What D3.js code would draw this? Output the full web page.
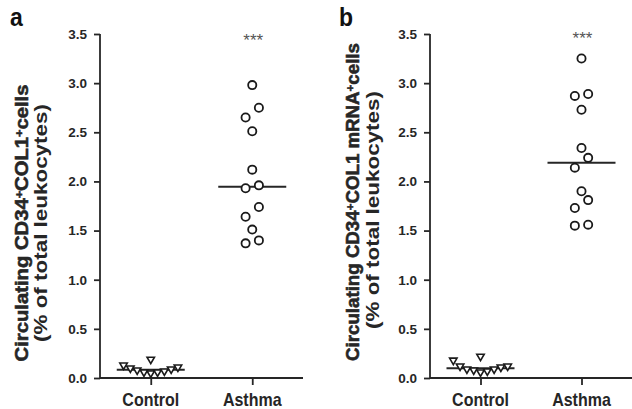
<!DOCTYPE html>
<html><head><meta charset="utf-8">
<script src="https://cdn.jsdelivr.net/npm/d3@7"></script>
<style>body{margin:0;background:#fff}svg{display:block}</style>
</head><body><svg id="c" width="632" height="409"></svg>
<script>
const categories = ["Control", "Asthma"];
const yTicks = [0, 0.5, 1.0, 1.5, 2.0, 2.5, 3.0, 3.5];
const controlA = [0.05, 0.06, 0.06, 0.07, 0.08, 0.09, 0.10, 0.11, 0.13, 0.19];
const asthmaA  = [1.37, 1.40, 1.51, 1.64, 1.74, 1.93, 1.96, 2.12, 2.51, 2.65, 2.75, 2.98];
const controlB = [0.06, 0.07, 0.08, 0.09, 0.09, 0.11, 0.12, 0.12, 0.18, 0.22];
const asthmaB  = [1.55, 1.56, 1.73, 1.81, 1.90, 2.14, 2.24, 2.34, 2.73, 2.87, 2.89, 3.25];
const panelLabels = ["a", "b"];
const significance = ["***", "***"];
const titleA = [["Circulating CD34", "+", "COL1", "+", "cells"], ["(% of total leukocytes)"]];
const titleB = [["Circulating CD34", "+", "COL1 mRNA", "+", "cells"], ["(% of total leukocytes)"]];

const svg = d3.select("#c");
const FONT = "Arial, 'Liberation Sans', Helvetica, sans-serif";
const INK = "#262626";

const panels = [
  {label: panelLabels[0], sig: significance[0], title: titleA, data: [controlA, asthmaA],
   x0: 100, x1: 303, labelX: 10, t1x: 28, t2x: 47, t1len: 277, t2len: 238, t1c: 223, t2c: 223, sigY: 46},
  {label: panelLabels[1], sig: significance[1], title: titleB, data: [controlB, asthmaB],
   x0: 430, x1: 632, labelX: 339, t1x: 359, t2x: 379, t1len: 318, t2len: 238, t1c: 202, t2c: 210, sigY: 44}
];

const y = d3.scaleLinear().domain([0, 3.5]).range([378, 34]);

function layout(values, thrPx, stepPx) {
  const pxPerUnit = Math.abs(y(1) - y(0));
  const sorted = values.slice().sort((a, b) => a - b);
  const groups = [];
  sorted.forEach(v => {
    const g = groups[groups.length - 1];
    if (g && (v - g[0]) * pxPerUnit <= thrPx + 1e-6) g.push(v); else groups.push([v]);
  });
  const out = [];
  groups.forEach(g => {
    const n = g.length;
    g.forEach((v, i) => {
      let slot;
      if (n % 2 === 1) { slot = i === 0 ? 0 : (i % 2 === 1 ? (i + 1) / 2 : -i / 2); }
      else { const k = Math.floor(i / 2) + 0.5; slot = i % 2 === 0 ? -k : k; }
      out.push({v, dx: slot * stepPx});
    });
  });
  return out;
}

panels.forEach(p => {
  const g = svg.append("g");
  const x = d3.scalePoint().domain(categories).range([p.x0, p.x1]).padding(0.5);

  // y axis
  const ya = g.append("g").attr("transform", `translate(${p.x0},0)`)
    .call(d3.axisLeft(y).tickValues(yTicks).tickFormat(d3.format(".1f")).tickSize(6).tickPadding(7));
  ya.select(".domain").attr("d", `M0,${y(3.5)}H0V${y(0)}`).attr("stroke", INK).attr("stroke-width", 1.8);
  ya.selectAll(".tick line").attr("stroke", INK).attr("stroke-width", 1.8);
  ya.selectAll(".tick text").attr("font-family", FONT).attr("font-weight", "bold")
    .attr("font-size", 13.5).attr("fill", INK);

  // x axis
  const xa = g.append("g").attr("transform", `translate(0,${y(0)})`)
    .call(d3.axisBottom(x).tickSize(7).tickFormat(""));
  xa.select(".domain").attr("d", `M${p.x0},0H${p.x1}`).attr("stroke", INK).attr("stroke-width", 1.8);
  xa.selectAll(".tick line").attr("stroke", INK).attr("stroke-width", 1.8);
  categories.forEach(c => {
    g.append("text").attr("transform", `translate(${x(c)},406) scale(1,1.15)`)
      .attr("text-anchor", "middle").attr("font-family", FONT).attr("font-weight", "bold")
      .attr("font-size", 16).attr("fill", INK).text(c);
  });

  // panel letter
  g.append("text").attr("transform", `translate(${p.labelX},26) scale(1,1.15)`)
    .attr("font-family", FONT).attr("font-weight", "bold").attr("font-size", 23)
    .attr("fill", "#111").text(p.label);

  // y titles
  const lines = [[p.title[0], p.t1x, p.t1len, p.t1c], [p.title[1], p.t2x, p.t2len, p.t2c]];
  lines.forEach(([parts, bx, len, cy], li) => {
    const t = g.append("text")
      .attr("text-anchor", "middle").attr("font-family", FONT).attr("font-weight", 700)
      .attr("font-size", 18).attr("fill", INK);
    if (li === 0) t.attr("stroke", INK).attr("stroke-width", 0.55);
    let afterSup = false;
    parts.forEach(s => {
      if (s === "+") {
        t.append("tspan").attr("dy", "-0.45em").attr("font-size", "0.62em").text(s);
        afterSup = true;
      } else {
        const ts = t.append("tspan").text(s);
        if (afterSup) ts.attr("dy", "0.28em");
        afterSup = false;
      }
    });
    const w = t.node().getComputedTextLength() || len;
    t.attr("transform", `translate(${bx},${cy}) rotate(-90) scale(${len / w},1)`);
  });

  // significance
  g.append("text").attr("x", x(categories[1]) + 1).attr("y", p.sigY)
    .attr("text-anchor", "middle").attr("font-family", FONT).attr("font-size", 17)
    .attr("fill", "#555").text(p.sig);

  // data
  const [ctrl, ast] = p.data;
  const tri = layout(ctrl, 12.3, 6.8);
  const circ = layout(ast, 12.3, 13.3);

  // medians
  [[ctrl, categories[0]], [ast, categories[1]]].forEach(([vals, c]) => {
    const m = d3.median(vals);
    g.append("line").attr("x1", x(c) - 34).attr("x2", x(c) + 34)
      .attr("y1", y(m)).attr("y2", y(m)).attr("stroke", INK).attr("stroke-width", 2);
  });

  const triSym = d3.symbol().type(d3.symbolTriangle).size(24);
  g.selectAll(".tri").data(tri).join("path").attr("class", "tri")
    .attr("d", triSym)
    .attr("transform", d => `translate(${x(categories[0]) + d.dx},${y(d.v)}) rotate(180)`)
    .attr("fill", "#fff").attr("stroke", "#1a1a1a").attr("stroke-width", 1.6);

  g.selectAll(".cir").data(circ).join("circle").attr("class", "cir")
    .attr("cx", d => x(categories[1]) + d.dx).attr("cy", d => y(d.v)).attr("r", 4.1)
    .attr("fill", "#fff").attr("stroke", "#1a1a1a").attr("stroke-width", 1.8);
});
</script></body></html>
